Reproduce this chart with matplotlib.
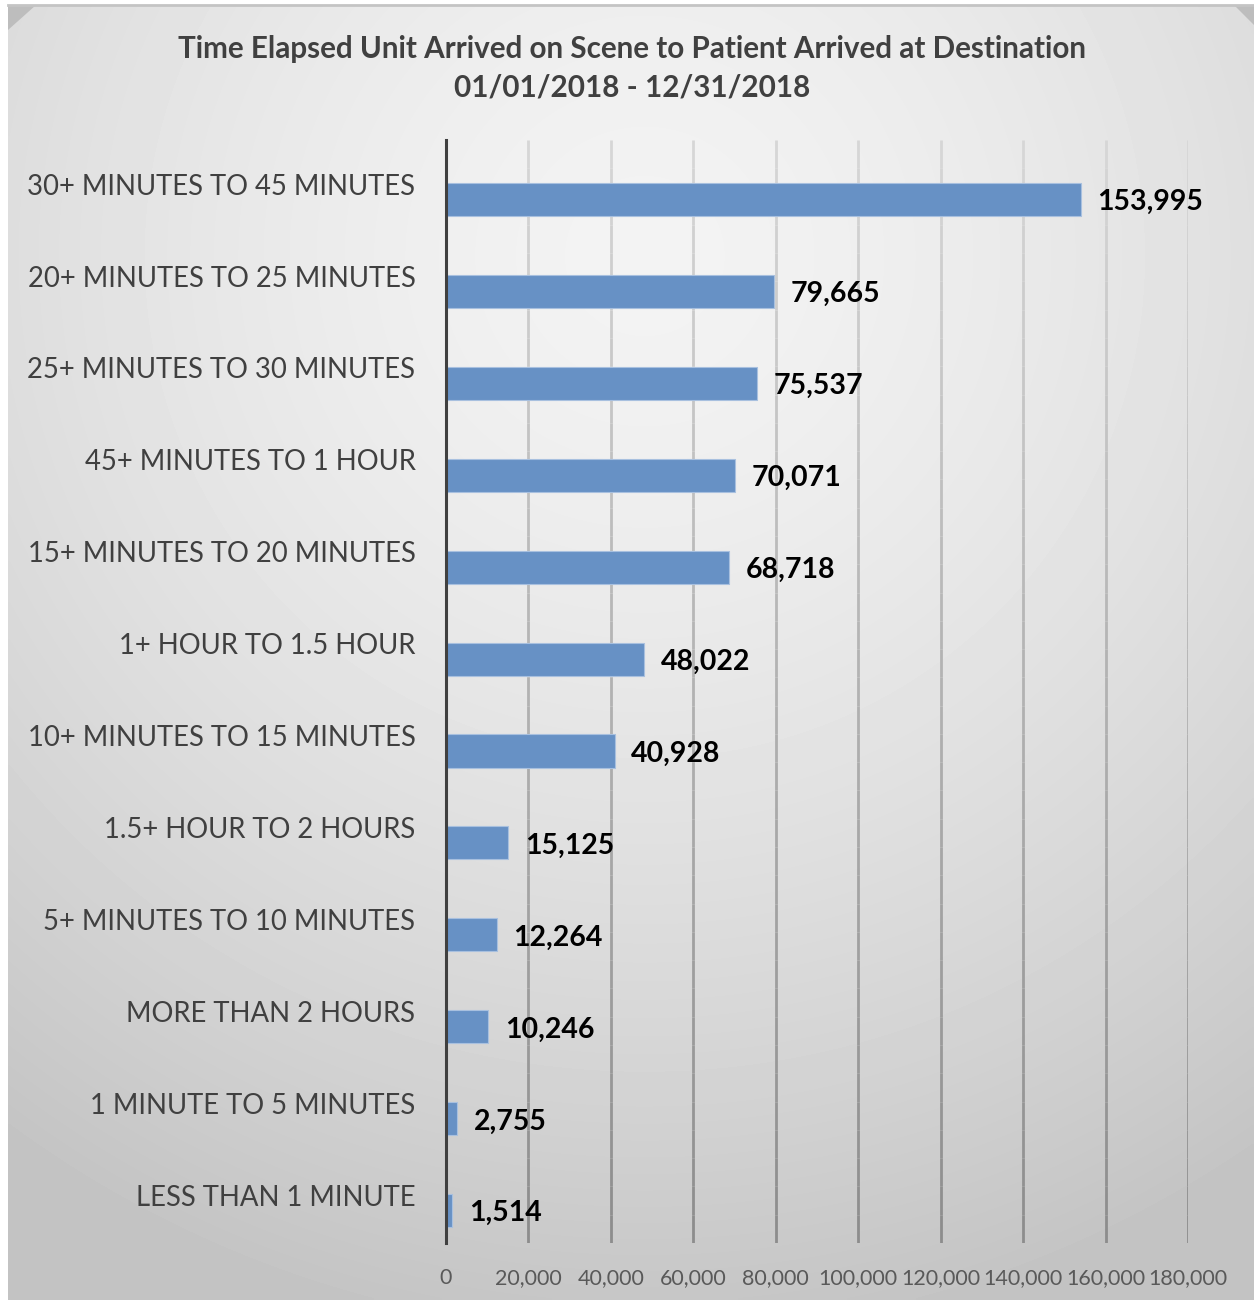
import numpy as np
import matplotlib
matplotlib.use("Agg")
import matplotlib.pyplot as plt
from matplotlib.collections import LineCollection
from matplotlib.patches import Polygon
from matplotlib.ticker import FuncFormatter
import matplotlib.transforms as mtransforms

plt.rcParams["font.family"] = ["Lato", "DejaVu Sans"]

title = "Time Elapsed Unit Arrived on Scene to Patient Arrived at Destination\n01/01/2018 - 12/31/2018"
categories = [
    "30+ MINUTES TO 45 MINUTES",
    "20+ MINUTES TO 25 MINUTES",
    "25+ MINUTES TO 30 MINUTES",
    "45+ MINUTES TO 1 HOUR",
    "15+ MINUTES TO 20 MINUTES",
    "1+ HOUR TO 1.5 HOUR",
    "10+ MINUTES TO 15 MINUTES",
    "1.5+ HOUR TO 2 HOURS",
    "5+ MINUTES TO 10 MINUTES",
    "MORE THAN 2 HOURS",
    "1 MINUTE TO 5 MINUTES",
    "LESS THAN 1 MINUTE",
]
counts = [153995, 79665, 75537, 70071, 68718, 48022, 40928, 15125, 12264, 10246, 2755, 1514]
x_ticks = [0, 20000, 40000, 60000, 80000, 100000, 120000, 140000, 160000, 180000]

W, H = 1254, 1300
fig = plt.figure(figsize=(W / 100, H / 100), dpi=100, facecolor="white")

# background panel with a soft radial gradient
bg = fig.add_axes([0, 0, 1, 1], zorder=-5)
bg.set_xlim(0, W)
bg.set_ylim(H, 0)
bg.axis("off")
yy, xx = np.mgrid[0:H:4, 0:W:4]
r = np.hypot(xx - 640, yy - 250) / 1100
shade = (243 - 48 * np.clip(r, 0, 1) ** 1.5) / 255
bg.imshow(shade, cmap="gray", vmin=0, vmax=1, extent=(8, W, H, 5),
          interpolation="bilinear", aspect="auto")
bg.plot([8, W], [5, 5], color="#c4c4c4", lw=2)
bg.add_patch(Polygon([(8, 5), (36, 5), (8, 30)], color="#bdbdbd", lw=0))
bg.add_patch(Polygon([(W - 20, 5), (W, 5), (W, 25)], color="#bdbdbd", lw=0))

fig.text(0.504, 0.9475, title, ha="center", va="center", fontsize=21.3,
         fontweight="bold", color="#404040", linespacing=1.45)

ax = fig.add_axes([446 / W, 1 - 1243 / H, (1188 - 446) / W, (1243 - 140) / H])
ax.patch.set_alpha(0)

pos = np.arange(len(categories))
bar_pos = pos + 0.147
ax.barh(bar_pos, counts, height=0.36, color="#6791c5", edgecolor="#a8c0df",
        linewidth=0.8, zorder=3)

for y, v in zip(bar_pos, counts):
    ax.annotate(f"{v:,}", (v, y + 0.03), xytext=(12, 0), textcoords="offset points",
                ha="left", va="center", fontsize=20.5, fontweight="bold",
                color="black", zorder=4)

ax.set_xlim(0, 180000)
ax.set_ylim(len(categories) - 0.5, -0.5)
ax.set_xticks(x_ticks)
ax.xaxis.set_major_formatter(FuncFormatter(lambda v, p: f"{int(v):,}"))
ax.set_yticks(pos - 0.02)
ax.set_yticklabels(categories)
ax.tick_params(axis="y", length=0, pad=22, labelsize=19.8, labelcolor="#404040")
ax.tick_params(axis="x", length=0, pad=18, labelsize=15.5, labelcolor="#595959")

# vertical gridlines that darken towards the bottom like the original
trans = mtransforms.blended_transform_factory(ax.transData, ax.transAxes)
steps = np.linspace(1, 0, 40)
segs, cols = [], []
for xv in x_ticks[1:]:
    for a, b in zip(steps[:-1], steps[1:]):
        segs.append([(xv, a), (xv, b)])
        g = (215 - 75 * (1 - (a + b) / 2)) / 255
        cols.append((g, g, g))
ax.add_collection(LineCollection(segs, colors=cols, linewidths=2.0,
                                 transform=trans, zorder=1))

for s in ["top", "right", "bottom"]:
    ax.spines[s].set_visible(False)
ax.spines["left"].set_color("#404040")
ax.spines["left"].set_linewidth(2.2)
ax.spines["left"].set_zorder(5)

fig.savefig("out.png", dpi=100, facecolor="white")
